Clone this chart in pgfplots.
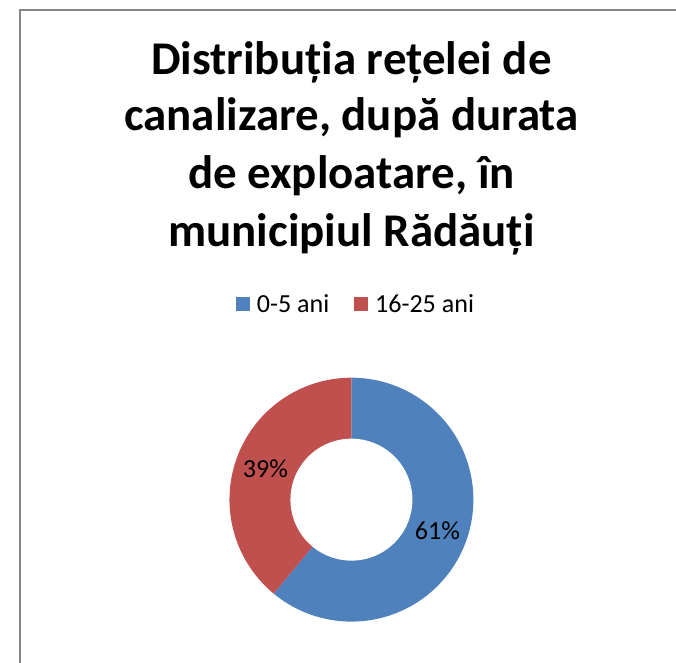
\documentclass[border=0pt]{standalone}
\usepackage{fontspec}
\setmainfont{Carlito}
\usepackage{pgfplots}
\pgfplotsset{compat=1.18}
\usepackage{pgfplotstable}
\definecolor{cblue}{HTML}{4F81BD}
\definecolor{cred}{HTML}{C0504D}
\definecolor{framegray}{HTML}{868686}

\pgfplotstableread[col sep=comma]{
label,value
0-5 ani,61
16-25 ani,39
}\donutdata

\begin{document}
\pgfplotstablegetelem{0}{value}\of\donutdata\let\va\pgfplotsretval
\pgfplotstablegetelem{1}{value}\of\donutdata\let\vb\pgfplotsretval
\pgfmathsetmacro{\aS}{90}
\pgfmathsetmacro{\aM}{90-3.6*\va}
\pgfmathsetmacro{\aE}{\aM-3.6*\vb}
\pgfmathsetmacro{\mA}{(\aS+\aM)/2}
\pgfmathsetmacro{\mB}{(\aM+\aE)/2}
\begin{tikzpicture}
\useasboundingbox (0,0) rectangle (676pt,-674pt);
\draw[framegray, line width=2pt] (9.3pt,-674pt) -- (9.3pt,-9.7pt) -- (676pt,-9.7pt);
\begin{scope}[every node/.style={font=\fontsize{47.7}{57}\selectfont\bfseries, anchor=base, inner sep=0pt}]
\node at (346pt,-76pt) {Distribuția rețelei de};
\node at (346pt,-133pt) {canalizare, după durata};
\node at (346pt,-192pt) {de exploatare, în};
\node at (346pt,-251pt) {municipiul Rădăuți};
\end{scope}
\begin{axis}[
  at={(216pt,-638pt)}, anchor=south west,
  x=1pt, y=1pt,
  xmin=-130, xmax=130, ymin=-130, ymax=130,
  hide axis, clip=false,
  legend columns=2,
  legend image code/.code={\fill[#1] (0pt,-7pt) rectangle (14.5pt,7.5pt);},
  legend style={draw=none, fill=none, at={(0.5135,1.2654)}, anchor=center,
    inner sep=0pt, nodes={inner sep=0pt, font=\fontsize{26.5}{30}\selectfont},
    /tikz/every odd column/.append style={column sep=7pt},
    /tikz/every even column/.append style={column sep=25pt}},
]
\addplot[fill=cblue, draw=none, domain=\aM:\aS, samples=150, variable=\t]
  ({124*cos(\t)},{124*sin(\t)}) -- (0,0) -- cycle;
\addlegendentry{0-5 ani}
\addplot[fill=cred, draw=none, domain=\aE:\aM, samples=150, variable=\t]
  ({124*cos(\t)},{124*sin(\t)}) -- (0,0) -- cycle;
\addlegendentry{16-25 ani}
\addplot[fill=white, draw=none, domain=0:360, samples=150, variable=\t, forget plot]
  ({62*cos(\t)},{62*sin(\t)}) -- cycle;
\node[font=\fontsize{26.5}{30}\selectfont] at (axis cs:{93*cos(\mA)},{93*sin(\mA)}) {\va\%};
\node[font=\fontsize{26.5}{30}\selectfont] at (axis cs:{93*cos(\mB)},{93*sin(\mB)}) {\vb\%};
\end{axis}
\end{tikzpicture}
\end{document}
